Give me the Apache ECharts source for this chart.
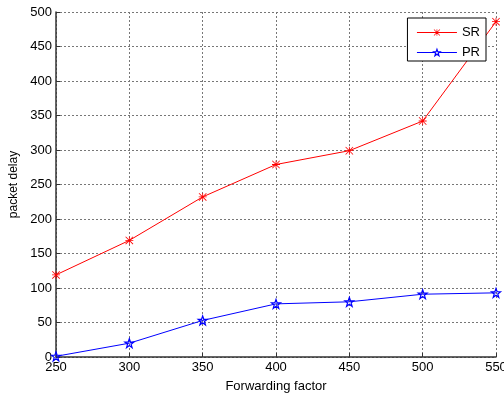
<!DOCTYPE html>
<html lang="en">
<head>
    <meta charset="utf-8">
    <title>packet delay</title>
    <script src="https://cdn.jsdelivr.net/npm/echarts@6/dist/echarts.min.js"></script>
</head>
<body style="margin:0;background:#fff;">
    <div id="main" style="width: 504px;height:396px;"></div>
    <script type="text/javascript">
        // data
        var forwardingFactor = [250, 300, 350, 400, 450, 500, 550];
        var srDelay = [119, 169, 232, 279, 299, 342, 486];
        var prDelay = [1, 20, 53, 77, 80, 91, 93];

        var asterisk = 'path://M4.5,0 L5.5,0 L5.5,10 L4.5,10 Z M0,4.5 L10,4.5 L10,5.5 L0,5.5 Z ' +
            'M0,0.7 L0.7,0 L10,9.3 L9.3,10 Z M9.3,0 L10,0.7 L0.7,10 L0,9.3 Z';
        var star = 'path://M10,0 L12.35,6.76 L19.51,6.91 L13.8,11.24 L15.88,18.09 L10,13.8 ' +
            'L4.12,18.09 L6.2,11.24 L0.49,6.91 L7.65,6.76 Z';

        function pairs(xs, ys) {
            var out = [];
            for (var i = 0; i < xs.length; i++) {
                out.push([xs[i], ys[i]]);
            }
            return out;
        }

        var font = 'Liberation Sans, Arial, sans-serif';
        var gridLine = { show: true, lineStyle: { color: '#777', type: [2, 2], width: 1 } };

        var myChart = echarts.init(document.getElementById('main'));
        myChart.setOption({
            animation: false,
            textStyle: { fontFamily: font },
            grid: { left: 56, right: 8, top: 12, bottom: 39, outerBoundsMode: 'none' },
            legend: {
                orient: 'vertical',
                right: 18,
                top: 18,
                padding: [8, 6, 2, 9],
                itemGap: 7,
                itemWidth: 40,
                itemHeight: 8,
                backgroundColor: '#fff',
                borderColor: '#000',
                borderWidth: 1,
                textStyle: { fontSize: 13, color: '#000', fontFamily: font },
                data: [
                    { name: 'SR', lineStyle: { width: 1, color: '#ff0000' } },
                    { name: 'PR', lineStyle: { width: 1, color: '#0000ff' },
                      itemStyle: { color: '#fff', borderColor: '#0000ff', borderWidth: 1.2 } }
                ]
            },
            xAxis: {
                type: 'value',
                min: 250,
                max: 550,
                interval: 50,
                name: 'Forwarding factor',
                nameLocation: 'middle',
                nameGap: 23,
                nameTextStyle: { fontSize: 13, color: '#000' },
                axisLine: { lineStyle: { color: '#333', width: 1.5 } },
                axisTick: { inside: true, length: 4, lineStyle: { color: '#333' } },
                axisLabel: { fontSize: 13, color: '#000', margin: 4 },
                splitLine: gridLine
            },
            yAxis: {
                type: 'value',
                min: 0,
                max: 500,
                interval: 50,
                name: 'packet delay',
                nameLocation: 'middle',
                nameGap: 36,
                nameTextStyle: { fontSize: 12, color: '#000' },
                axisLine: { show: true, lineStyle: { color: '#333', width: 1.5 } },
                axisTick: { show: true, inside: true, length: 4, lineStyle: { color: '#333' } },
                axisLabel: { fontSize: 13, color: '#000', margin: 4 },
                splitLine: gridLine
            },
            series: [
                {
                    name: 'SR',
                    type: 'line',
                    data: pairs(forwardingFactor, srDelay),
                    symbol: asterisk,
                    symbolSize: 8,
                    showAllSymbol: true,
                    lineStyle: { color: '#ff0000', width: 1 },
                    itemStyle: { color: '#ff0000' }
                },
                {
                    name: 'PR',
                    type: 'line',
                    data: pairs(forwardingFactor, prDelay),
                    symbol: star,
                    symbolSize: 9,
                    showAllSymbol: true,
                    lineStyle: { color: '#0000ff', width: 1 },
                    itemStyle: { color: 'rgba(255,255,255,0)', borderColor: '#0000ff', borderWidth: 1.2 }
                }
            ]
        });
    </script>
</body>
</html>
